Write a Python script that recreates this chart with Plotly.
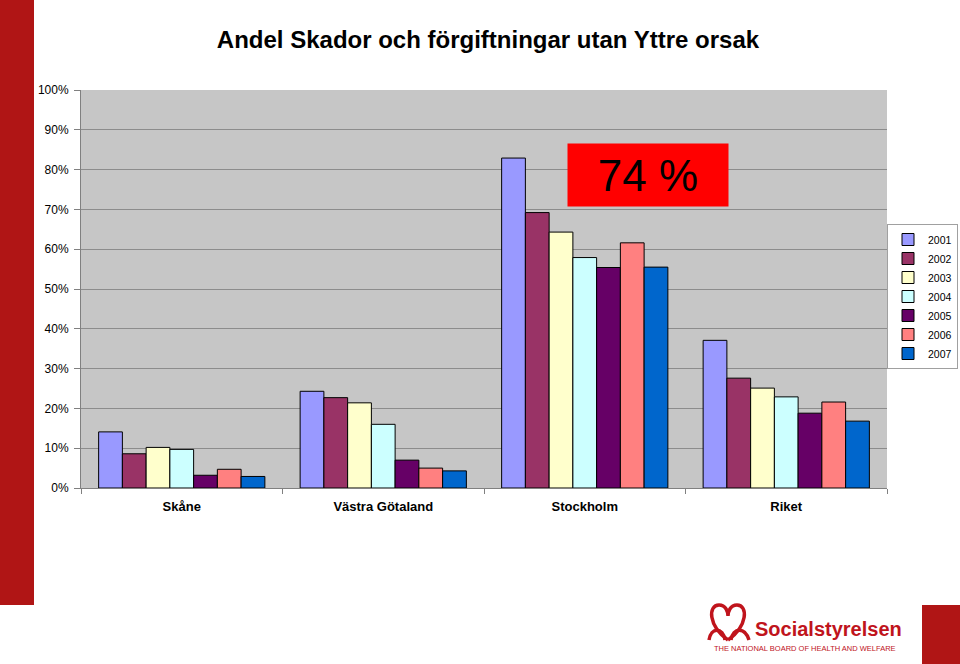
import plotly.graph_objects as go

categories = ["Skåne", "Västra Götaland", "Stockholm", "Riket"]
years = ["2001", "2002", "2003", "2004", "2005", "2006", "2007"]
values = {
    "2001": [14.1, 24.3, 82.9, 37.1],
    "2002": [8.6, 22.7, 69.2, 27.6],
    "2003": [10.2, 21.4, 64.3, 25.1],
    "2004": [9.7, 16.0, 57.9, 22.9],
    "2005": [3.2, 7.0, 55.4, 18.8],
    "2006": [4.7, 5.0, 61.6, 21.6],
    "2007": [2.9, 4.3, 55.5, 16.8],
}
colors = {
    "2001": "#9999FF",
    "2002": "#993366",
    "2003": "#FFFFCC",
    "2004": "#CCFFFF",
    "2005": "#660066",
    "2006": "#FF8080",
    "2007": "#0066CC",
}
y_ticks = [0, 10, 20, 30, 40, 50, 60, 70, 80, 90, 100]
y_tick_labels = [f"{v}%" for v in y_ticks]

title = "Andel Skador och förgiftningar utan Yttre orsak"
callout = "74 %"

W, H = 960, 664
L, R, T, B = 81, 887, 90, 488
FONT = "Liberation Sans, Arial, sans-serif"


def px(x):
    return (x - L) / (R - L)


def py(y):
    return (B - y) / (B - T)


fig = go.Figure()
for yr in years:
    fig.add_trace(go.Bar(
        name=yr, x=categories, y=values[yr],
        marker=dict(color=colors[yr], line=dict(color="#000000", width=1)),
    ))

fig.update_layout(
    width=W, height=H,
    margin=dict(l=L, r=W - R, t=T, b=H - B, pad=0, autoexpand=False),
    paper_bgcolor="#FFFFFF",
    plot_bgcolor="#C6C6C6",
    barmode="group",
    bargap=0.175,
    bargroupgap=0,
    font=dict(family=FONT, size=12, color="#000000"),
    title=dict(
        text="<b>" + title + "</b>",
        x=488 / W, xref="container", xanchor="center",
        y=1 - 40 / H, yref="container", yanchor="middle",
        font=dict(family=FONT, size=24, color="#000000"),
    ),
    showlegend=True,
    legend=dict(
        x=px(887), y=py(224), xanchor="left", yanchor="top",
        bordercolor="#A0A0A0", borderwidth=1, bgcolor="#FFFFFF",
        font=dict(family=FONT, size=10.5, color="#000000"),
        itemwidth=30, tracegroupgap=0,
    ),
    xaxis=dict(
        type="category",
        showgrid=False,
        showline=True, linecolor="#808080", linewidth=1,
        ticks="outside", tickson="boundaries", ticklen=5, tickcolor="#808080",
        tickfont=dict(family=FONT, size=13, color="#000000"),
        ticklabelstandoff=6,
        tickvals=categories,
        ticktext=["<b>" + c + "</b>" for c in categories],
    ),
    yaxis=dict(
        range=[0, 100],
        tickvals=y_ticks, ticktext=y_tick_labels,
        showgrid=True, gridcolor="#8C8C8C", gridwidth=1,
        showline=True, linecolor="#808080", linewidth=1,
        ticks="outside", ticklen=6, tickcolor="#808080",
        tickfont=dict(family=FONT, size=12, color="#000000"),
        ticklabelstandoff=3,
        zeroline=False,
    ),
)

# Red callout box
fig.add_annotation(
    xref="paper", yref="paper",
    x=px(648), y=py(175), xanchor="center", yanchor="middle",
    text=callout, showarrow=False,
    font=dict(family=FONT, size=44, color="#000000"),
    bgcolor="#FF0000", width=160, height=62, borderpad=0,
)

# Left red band
fig.add_shape(type="rect", xref="paper", yref="paper",
              x0=px(0), x1=px(34), y0=py(0), y1=py(605),
              fillcolor="#B01515", line=dict(width=0), layer="above")
# Bottom-right red block
fig.add_shape(type="rect", xref="paper", yref="paper",
              x0=px(922), x1=px(960), y0=py(605), y1=py(664),
              fillcolor="#B01515", line=dict(width=0), layer="above")

# Logo symbol (approximate intertwined hearts)
logo_color = "#C0141C"
fig.add_shape(type="path", xref="paper", yref="paper",
              path=(f"M {px(728)},{py(640)} "
                    f"C {px(708)},{py(626)} {px(708)},{py(605)} {px(719)},{py(605)} "
                    f"C {px(726)},{py(605)} {px(728)},{py(612)} {px(728)},{py(616)} "
                    f"C {px(728)},{py(612)} {px(730)},{py(605)} {px(737)},{py(605)} "
                    f"C {px(748)},{py(605)} {px(748)},{py(626)} {px(728)},{py(640)}"),
              line=dict(color=logo_color, width=3.5), layer="above")
fig.add_shape(type="path", xref="paper", yref="paper",
              path=(f"M {px(709)},{py(640)} C {px(711)},{py(627)} {px(723)},{py(627)} {px(725)},{py(640)} "
                    f"M {px(731)},{py(640)} C {px(733)},{py(627)} {px(745)},{py(627)} {px(749)},{py(640)}"),
              line=dict(color=logo_color, width=3.5), layer="above")

fig.add_annotation(
    xref="paper", yref="paper", x=px(753), y=py(629),
    xanchor="left", yanchor="middle", showarrow=False,
    text="<b>Socialstyrelsen</b>",
    font=dict(family=FONT, size=20, color=logo_color),
)
fig.add_annotation(
    xref="paper", yref="paper", x=px(898), y=py(648),
    xanchor="right", yanchor="middle", showarrow=False,
    text="THE NATIONAL BOARD OF HEALTH AND WELFARE",
    font=dict(family=FONT, size=7.5, color=logo_color),
)

fig.write_html("out.html", config={"displayModeBar": False},
               post_script="document.body.style.margin='0';")
